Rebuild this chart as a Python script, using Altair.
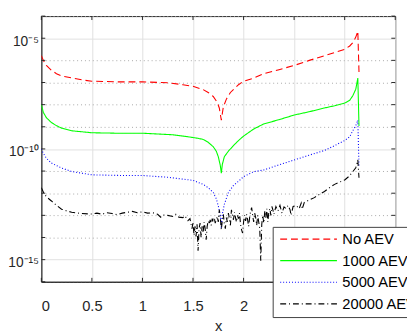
import altair as alt
import pandas as pd

series = ["No AEV", "1000 AEV", "5000 AEV", "20000 AEV"]
colors = ["#ff0000", "#00ff00", "#0000ff", "#000000"]
dashes = [[7, 4], [1, 0], [1, 2], [6, 3, 1, 3]]

# No AEV (log10 of value)
x_red = [0, 0.02, 0.05, 0.1, 0.15, 0.2, 0.3, 0.4, 0.5, 0.75, 1.0, 1.25, 1.4, 1.5, 1.6, 1.65,
         1.7, 1.74, 1.76, 1.78, 1.8, 1.83, 1.87, 1.95, 2.0, 2.1, 2.2, 2.35, 2.5, 2.65, 2.8, 2.9,
         3.0, 3.05, 3.08, 3.11, 3.13, 3.1416]
e_red = [-5.79, -6.0, -6.23, -6.45, -6.6, -6.7, -6.79, -6.88, -6.94, -6.97, -6.97, -7.01, -7.1,
         -7.17, -7.32, -7.45, -7.63, -7.9, -8.15, -8.7, -8.1, -7.75, -7.45, -7.1, -6.94, -6.8,
         -6.6, -6.42, -6.23, -6.0, -5.79, -5.65, -5.5, -5.35, -5.2, -4.95, -4.68, -6.53]

# 1000 AEV
x_green = [0, 0.02, 0.05, 0.1, 0.15, 0.2, 0.3, 0.5, 0.75, 1.0, 1.3, 1.45, 1.55, 1.6, 1.65, 1.7,
           1.73, 1.75, 1.77, 1.78, 1.79, 1.81, 1.85, 1.9, 1.95, 2.0, 2.1, 2.2, 2.35, 2.5, 2.65,
           2.8, 2.9, 3.0, 3.05, 3.08, 3.11, 3.13, 3.1416]
e_green = [-8.0, -8.35, -8.59, -8.81, -8.95, -9.06, -9.18, -9.27, -9.29, -9.29, -9.36, -9.45,
           -9.52, -9.57, -9.7, -9.9, -10.1, -10.35, -10.75, -11.1, -10.7, -10.35, -10.1, -9.85,
           -9.62, -9.42, -9.1, -8.87, -8.68, -8.47, -8.32, -8.15, -8.05, -7.93, -7.8, -7.6,
           -7.3, -6.8, -8.96]

# 5000 AEV
x_blue = [0, 0.02, 0.05, 0.1, 0.2, 0.3, 0.5, 0.8, 1.0, 1.25, 1.5, 1.6, 1.65, 1.7, 1.73, 1.75,
          1.77, 1.78, 1.79, 1.81, 1.85, 1.9, 1.95, 2.0, 2.1, 2.2, 2.35, 2.5, 2.65, 2.8, 2.9,
          3.0, 3.05, 3.08, 3.11, 3.13, 3.1416]
e_blue = [-10.0, -10.2, -10.42, -10.64, -10.86, -11.02, -11.17, -11.2, -11.2, -11.28, -11.42,
          -11.6, -11.75, -11.97, -12.25, -12.57, -13.0, -13.6, -12.95, -12.5, -11.97, -11.65,
          -11.46, -11.25, -11.03, -10.95, -10.72, -10.5, -10.28, -10.07, -9.85, -9.62, -9.45,
          -9.18, -8.95, -8.7, -10.8]

# 20000 AEV
x_black = [0, 0.03, 0.06, 0.1, 0.15, 0.2, 0.25, 0.3, 0.4, 0.5, 0.55, 0.6, 0.65, 0.7, 0.75, 0.8,
           0.85, 0.9, 0.95, 1.0, 1.05, 1.1, 1.15, 1.18, 1.2, 1.25, 1.3, 1.33, 1.36, 1.4, 1.42,
           1.45, 1.47, 1.49, 1.50, 1.51, 1.52, 1.53, 1.54, 1.55, 1.56, 1.57, 1.58, 1.59, 1.60,
           1.61, 1.62, 1.63, 1.64, 1.65, 1.66, 1.67, 1.68, 1.69, 1.70, 1.71, 1.72, 1.73, 1.74,
           1.75, 1.76, 1.77, 1.78, 1.79, 1.80, 1.81, 1.82, 1.83, 1.84, 1.85, 1.86, 1.87, 1.88,
           1.89, 1.90, 1.91, 1.92, 1.93, 1.94, 1.95, 1.96, 1.97, 1.98, 1.99, 2.00, 2.01, 2.02,
           2.03, 2.04, 2.05, 2.06, 2.07, 2.08, 2.09, 2.10, 2.11, 2.12, 2.13, 2.14, 2.15, 2.16,
           2.17, 2.18, 2.19, 2.20, 2.21, 2.22, 2.23, 2.24, 2.25, 2.26, 2.27, 2.28, 2.29, 2.30,
           2.32, 2.34, 2.36, 2.38, 2.40, 2.42, 2.44, 2.46, 2.47, 2.49, 2.52, 2.55, 2.57, 2.58,
           2.60, 2.63, 2.66, 2.7, 2.75, 2.8, 2.85, 2.9, 2.95, 3.0, 3.04, 3.08, 3.11, 3.13, 3.1416]
e_black = [-11.75, -12.05, -12.2, -12.35, -12.55, -12.72, -12.8, -12.86, -12.92, -12.94, -12.9,
           -12.95, -12.88, -12.92, -12.97, -12.9, -12.86, -12.82, -12.88, -12.84, -12.9, -12.88,
           -12.95, -13.08, -12.98, -13.0, -13.05, -12.95, -13.08, -13.1, -13.02, -13.24, -13.15,
           -13.6, -13.3, -13.9, -13.5, -13.95, -13.4, -14.6, -13.6, -13.35, -14.0, -13.5, -13.8,
           -13.3, -13.6, -14.1, -13.5, -13.25, -13.4, -13.2, -13.45, -13.15, -13.3, -13.1,
           -13.35, -13.2, -13.05, -13.3, -12.75, -13.1, -13.65, -13.2, -12.95, -13.4, -13.6,
           -13.1, -13.3, -12.9, -13.15, -13.45, -12.75, -13.0, -13.2, -12.85, -13.1, -13.3,
           -13.0, -13.15, -12.9, -13.4, -13.65, -13.8, -13.3, -13.0, -13.25, -12.95, -13.2,
           -13.5, -13.1, -12.8, -12.65, -13.0, -13.3, -12.9, -13.1, -13.45, -13.0, -13.3, -13.6,
           -15.05, -13.4, -13.0, -13.35, -12.8, -13.1, -12.7, -13.3, -12.85, -12.7, -13.0, -12.6,
           -12.75, -12.95, -12.6, -12.8, -12.55, -12.9, -12.62, -12.7, -12.55, -12.75, -13.0,
           -12.6, -12.55, -12.7, -12.45, -12.72, -12.42, -12.35, -12.28, -12.2, -12.05, -11.92,
           -11.75, -11.6, -11.5, -11.4, -11.25, -11.03, -10.85, -10.5, -11.3]

x_ticks = [0, 0.5, 1, 1.5, 2, 2.5, 3, 3.5]
x_labeled_max = 2.0          # labels right of this sit under the legend box
y_tick_exps = list(range(-16, -3))
labeled_exps = [-5, -10, -15]

W, H = 361, 271
FONT = "Liberation Sans"
DARK = "#262626"

rows = []
for name, xs, es in zip(series, [x_red, x_green, x_blue, x_black],
                        [e_red, e_green, e_blue, e_black]):
    for i, (xv, ev) in enumerate(zip(xs, es)):
        rows.append({"x": xv, "y": 10.0 ** ev, "series": name, "i": i})
df = pd.DataFrame(rows)

sup = str.maketrans("-0123456789", "⁻⁰¹²³⁴⁵⁶⁷⁸⁹")
expo = "round(log(datum.value)/LN10)"
label_expr = "".join(f"{expo} == {k} ? '10{str(k).translate(sup)}' : " for k in labeled_exps) + "''"
major_test = f"{expo} % 5 == 0"

x_scale = alt.Scale(domain=[0, 3.5], nice=False, zero=False)
y_scale = alt.Scale(type="log", domain=[1e-16, 1e-4], nice=False)

legend = alt.Legend(
    title=None, orient="none", legendX=236, legendY=215,
    fillColor="white", strokeColor="#404040", padding=5,
    symbolType="M-1,0H11", symbolSize=93, symbolStrokeWidth=1.2,
    labelFont=FONT, labelFontSize=15, labelColor="black",
    rowPadding=6, labelOffset=51,
)

lines = alt.Chart(df).mark_line(strokeWidth=1.1, clip=True).encode(
    x=alt.X("x:Q", scale=x_scale,
            axis=alt.Axis(values=x_ticks, title="x", grid=True, gridColor="#e0e0e0",
                          labelExpr=f"datum.value > {x_labeled_max} ? '' : "
                                    "(datum.value == 0 ? '0' : format(datum.value, ''))",
                          labelFontSize=15, labelPadding=17, titlePadding=6)),
    y=alt.Y("y:Q", scale=y_scale,
            axis=alt.Axis(values=[10.0 ** k for k in y_tick_exps], title=None, grid=True,
                          labelExpr=label_expr, labelFontSize=14, labelPadding=3,
                          labelOffset=3,
                          gridDash=alt.condition(major_test, alt.value([]), alt.value([1, 3])),
                          gridColor=alt.condition(major_test, alt.value("#e0e0e0"),
                                                  alt.value("#a8a8a8")))),
    color=alt.Color("series:N", scale=alt.Scale(domain=series, range=colors), legend=legend),
    strokeDash=alt.StrokeDash("series:N", scale=alt.Scale(domain=series, range=dashes),
                              legend=legend),
    order="i:Q",
)

xt = pd.DataFrame({"x": x_ticks})
yt = pd.DataFrame({"y": [10.0 ** k for k in y_tick_exps]})
tick_len = 4
top_ticks = alt.Chart(xt).mark_rule(color=DARK).encode(
    x=alt.X("x:Q", scale=x_scale), y=alt.value(0), y2=alt.value(tick_len))
bot_ticks = alt.Chart(xt).mark_rule(color=DARK).encode(
    x=alt.X("x:Q", scale=x_scale), y=alt.value(H - tick_len), y2=alt.value(H))
left_ticks = alt.Chart(yt).mark_rule(color=DARK).encode(
    y=alt.Y("y:Q", scale=y_scale), x=alt.value(0), x2=alt.value(tick_len))
right_ticks = alt.Chart(yt).mark_rule(color=DARK).encode(
    y=alt.Y("y:Q", scale=y_scale), x=alt.value(W - tick_len), x2=alt.value(W))

chart = alt.layer(lines, top_ticks, bot_ticks, left_ticks, right_ticks).properties(
    width=W, height=H,
    background="white",
    autosize=alt.AutoSizeParams(type="none"),
    padding={"left": 34, "top": 5, "right": 12, "bottom": 49},
).configure_view(stroke=DARK, strokeWidth=1).configure_axis(
    domainColor=DARK, ticks=False, labelFont=FONT, labelFontSize=14, labelColor=DARK,
    titleFont=FONT, titleFontSize=15, titleFontWeight="normal", titleColor=DARK,
)

chart.save("out.html", embed_options={"renderer": "svg", "actions": False})
